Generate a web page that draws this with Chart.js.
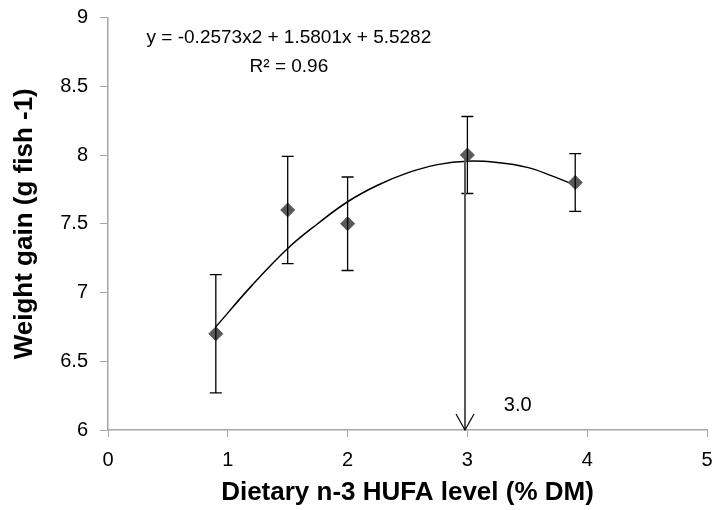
<!DOCTYPE html>
<html>
<head>
<meta charset="utf-8">
<script src="https://cdn.jsdelivr.net/npm/chart.js@4.4.1/dist/chart.umd.min.js"></script>
<style>
  html, body { margin: 0; padding: 0; background: #fff; }
  #wrap { width: 715px; height: 510px; }
</style>
</head>
<body>
<div id="wrap"><canvas id="wgChart"></canvas></div>
<script>
// measured points
const hufa = [0.9, 1.5, 2.0, 3.0, 3.9];
const gain = [6.7, 7.6, 7.5, 8.0, 7.8];
const errLow = [6.27, 7.21, 7.16, 7.72, 7.59];
const errHigh = [7.13, 7.99, 7.84, 8.28, 8.01];

// polynomial trendline
const trendX = [0.9, 1.2, 1.5, 1.75, 2.0, 2.25, 2.5, 2.75, 3.0, 3.25, 3.5, 3.7, 3.9];
const trendY = [6.75, 7.05, 7.32, 7.50, 7.66, 7.78, 7.87, 7.93, 7.955, 7.945, 7.91, 7.85, 7.78];

const xTicks = [0, 1, 2, 3, 4, 5];
const yTicks = [6, 6.5, 7, 7.5, 8, 8.5, 9];

const eqText = 'y = -0.2573x2 + 1.5801x + 5.5282';
const r2Text = 'R² = 0.96';
const optText = '3.0';
const optX = 2.98;
const optTop = 8.0;

Chart.defaults.font.family = "'Liberation Sans', Arial, sans-serif";
Chart.defaults.color = '#000';

const overlay = {
    id: 'overlay',
    afterDatasetsDraw(chart) {
        const ctx = chart.ctx;
        const xs = chart.scales.x, ys = chart.scales.y;
        ctx.save();
        // error bars
        ctx.strokeStyle = '#000';
        ctx.lineWidth = 1.3;
        hufa.forEach((v, i) => {
            const px = xs.getPixelForValue(v);
            const lo = ys.getPixelForValue(errLow[i]);
            const hi = ys.getPixelForValue(errHigh[i]);
            ctx.beginPath();
            ctx.moveTo(px, lo); ctx.lineTo(px, hi);
            ctx.moveTo(px - 6, lo); ctx.lineTo(px + 6, lo);
            ctx.moveTo(px - 6, hi); ctx.lineTo(px + 6, hi);
            ctx.stroke();
        });
        // arrow to optimum
        const ax = xs.getPixelForValue(optX);
        const aTop = ys.getPixelForValue(optTop);
        const aBot = ys.getPixelForValue(ys.min);
        ctx.strokeStyle = '#595959';
        ctx.lineWidth = 2;
        ctx.beginPath();
        ctx.moveTo(ax, aTop); ctx.lineTo(ax, aBot);
        ctx.stroke();
        ctx.strokeStyle = '#000';
        ctx.lineWidth = 1.2;
        ctx.beginPath();
        ctx.moveTo(ax - 9, aBot - 16); ctx.lineTo(ax, aBot); ctx.lineTo(ax + 9, aBot - 16);
        ctx.stroke();
        // texts
        ctx.fillStyle = '#000';
        ctx.font = "19px 'Liberation Sans', Arial";
        ctx.textAlign = 'center';
        ctx.textBaseline = 'middle';
        ctx.fillText(eqText, xs.getPixelForValue(1.51), ys.getPixelForValue(8.85));
        ctx.fillText(r2Text, xs.getPixelForValue(1.51), ys.getPixelForValue(8.64));
        ctx.font = "20px 'Liberation Sans', Arial";
        ctx.fillText(optText, xs.getPixelForValue(3.42), ys.getPixelForValue(6.18));
        ctx.restore();
    }
};

const axisGrey = '#a6a6a6';

new Chart(document.getElementById('wgChart'), {
    type: 'scatter',
    data: {
        datasets: [{
            type: 'line',
            data: trendX.map((x, i) => ({ x: x, y: trendY[i] })),
            borderColor: '#000',
            borderWidth: 1.5,
            pointRadius: 0,
            tension: 0.4,
            fill: false,
            order: 2
        }, {
            data: hufa.map((x, i) => ({ x: x, y: gain[i] })),
            pointStyle: 'rectRot',
            pointRadius: 7,
            backgroundColor: '#595959',
            borderColor: '#595959',
            borderWidth: 1,
            order: 1
        }]
    },
    options: {
        responsive: true,
        maintainAspectRatio: false,
        animation: false,
        layout: { padding: { top: 17.5, right: 0, left: 4, bottom: 0 } },
        plugins: {
            legend: { display: false },
            tooltip: { enabled: false }
        },
        scales: {
            x: {
                type: 'linear',
                min: 0,
                max: 5,
                afterBuildTicks: s => { s.ticks = xTicks.map(v => ({ value: v })); },
                afterFit: s => { s.height = 80; s.paddingRight = 2; },
                ticks: { font: { size: 20 }, padding: 11, callback: v => String(v) },
                grid: { drawOnChartArea: false, color: axisGrey, tickLength: 7 },
                border: { color: axisGrey, width: 1.5 },
                title: {
                    display: true,
                    text: 'Dietary n-3 HUFA level (% DM)',
                    font: { size: 26, weight: 'bold' },
                    padding: { top: 0, bottom: 2 }
                }
            },
            y: {
                min: 6,
                max: 9,
                afterBuildTicks: s => { s.ticks = yTicks.map(v => ({ value: v })); },
                afterFit: s => { s.width = 104; s.paddingTop = 0; s.paddingBottom = 0; },
                ticks: { font: { size: 20 }, padding: 12, callback: v => String(v) },
                grid: { drawOnChartArea: false, color: axisGrey, tickLength: 8 },
                border: { color: axisGrey, width: 1.5 },
                title: {
                    display: true,
                    text: 'Weight gain (g fish -1)',
                    font: { size: 26, weight: 'bold' },
                    padding: { top: 5, bottom: 0 }
                }
            }
        }
    },
    plugins: [overlay]
});
</script>
</body>
</html>
